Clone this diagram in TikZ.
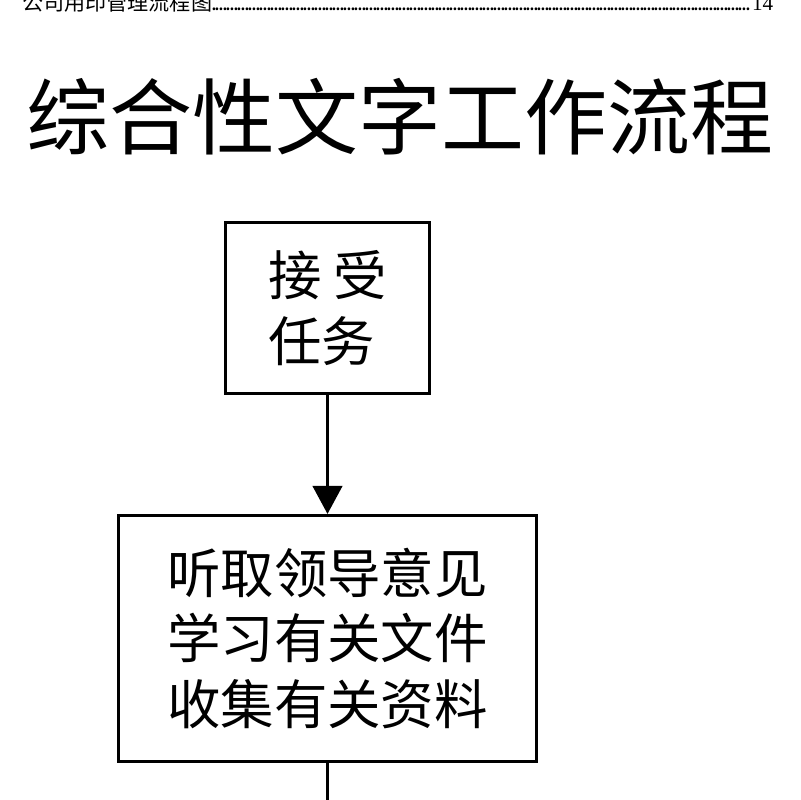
\documentclass[tikz,border=0pt]{standalone}
\usepackage{fontspec}
\setmainfont{Noto Sans CJK SC}
\newfontfamily\numfont{Liberation Serif}
\usepackage{tikz}
\usetikzlibrary{arrows, arrows.meta, positioning, shapes}

\begin{document}
\begin{tikzpicture}[x=0.025cm, y=-0.025cm, node distance=8.26cm]

	% Define block styles
	\tikzstyle{block} = [rectangle, draw, line width=2.1pt, align=left,
	inner sep=0pt, font=\fontsize{38}{46.5}\selectfont]
	\tikzstyle{line} = [draw, line width=2.1pt, -{Triangle[length=20pt, width=21pt]}]

	\useasboundingbox (0,0) rectangle (800,800);

	% Header and title
	\node [anchor=base west, inner sep=0pt, font=\fontsize{15}{15}\selectfont] (toc) at (22,11)
	{\hbox to 534pt{公司用印管理流程图\leaders\hbox to 2.6pt{\hss.\hss}\hfill{\numfont 14}}};
	\node [inner sep=0pt, font=\fontsize{59}{59}\selectfont] (title) at (400,117) {综合性文字工作流程};

	% Nodes
	\node [block, minimum width=145pt, minimum height=122pt] (task) at (327.5,308)
	{接\hspace{8pt}受\\任务};
	\node [block, minimum width=297pt, minimum height=175pt, below of=task] (study)
	{听取领导意见\\学习有关文件\\收集有关资料};
	\coordinate (next) at (327.5,800);

	% Paths
	\path [line] (task) -- (study);
	\draw [line width=2.1pt] (study) -- (next);
\end{tikzpicture}
\end{document}
